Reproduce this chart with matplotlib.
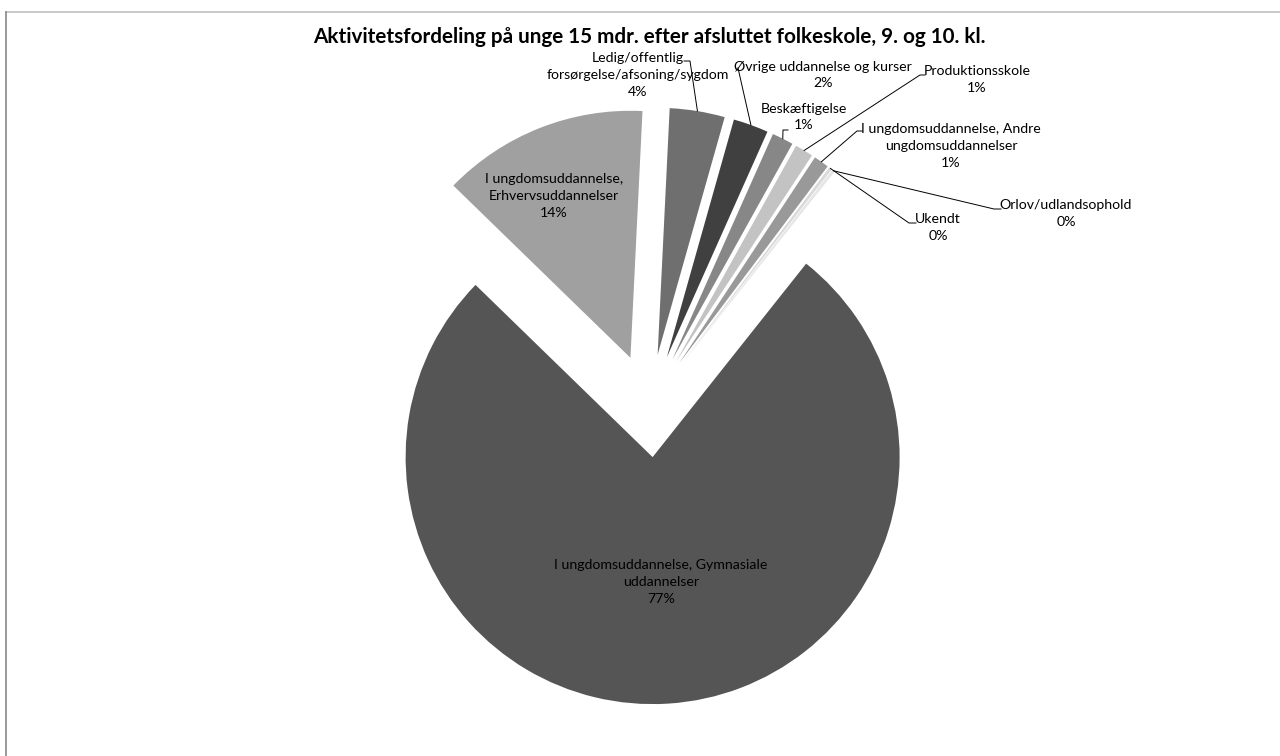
import matplotlib
matplotlib.use("Agg")
import matplotlib.pyplot as plt
import numpy as np

# ---------------- data ----------------
categories = [
    "Ledig/offentlig\nforsørgelse/afsoning/sygdom",
    "Øvrige uddannelse og kurser",
    "Beskæftigelse",
    "Produktionsskole",
    "I ungdomsuddannelse, Andre\nungdomsuddannelser",
    "Ukendt",
    "Orlov/udlandsophold",
    "I ungdomsuddannelse, Gymnasiale\nuddannelser",
    "I ungdomsuddannelse,\nErhvervsuddannelser",
]
shares = [3.6, 2.3, 1.4, 1.2, 1.0, 0.2, 0.2, 76.6, 13.5]
colors = ["#6f6f6f", "#404040", "#878787", "#c3c3c3", "#999999",
          "#d9d9d9", "#e6e6e6", "#555555", "#a0a0a0"]
title = "Aktivitetsfordeling på unge 15 mdr. efter afsluttet folkeskole, 9. og 10. kl."

W, H = 1280, 756
FONT = ["Lato", "DejaVu Sans"]
plt.rcParams["font.family"] = FONT

fig = plt.figure(figsize=(W / 100, H / 100), dpi=100)
ax = fig.add_axes([0, 0, 1, 1])


def P(x, y):
    """pixel (top-left origin) -> data coords"""
    return (x, H - y)


R = 247
center = P(649.3, 405.7)
wedges, _ = ax.pie(shares, colors=colors, radius=R, center=center,
                   startangle=87.2, counterclock=False,
                   explode=[51.5] * len(shares),
                   wedgeprops=dict(linewidth=0), frame=True)
ax.set_xlim(0, W)
ax.set_ylim(0, H)
ax.set_aspect("equal")
ax.axis("off")

labels = [f"{c}\n{v:.0f}%" for c, v in zip(categories, shares)]

# label centres (pixel) and leader line start points (pixel), None = inside label
label_pos = [(638, 75), (823, 75), (804, 117), (977, 79.5), (951, 146),
             (938, 227.5), (1066, 213.5), (661, 582), (554, 196)]
leader = [[(684, 61), (690, 61)],
          [(738, 68)],
          [(788, 130), (783, 130)],
          [(925, 75), (920, 75)],
          [(862, 131), (857, 131)],
          [(916, 223), (909, 223)],
          [(1001, 209), (994, 209)],
          None, None]

for w, lab, pos, ld in zip(wedges, labels, label_pos, leader):
    ax.text(*P(*pos), lab, ha="center", va="center", fontsize=10.2,
            color="#000000", linespacing=1.47)
    if ld is not None:
        mid = np.deg2rad((w.theta1 + w.theta2) / 2)
        cx, cy = w.center
        end = (cx + w.r * np.cos(mid), cy + w.r * np.sin(mid))
        pts = [P(*p) for p in ld] + [end]
        xs, ys = zip(*pts)
        ax.plot(xs, ys, color="#000000", lw=0.7)

ax.text(*P(649.5, 37), title, ha="center", va="center", fontsize=14.9,
        fontweight="bold", color="#000000")

# chart area border (top and left visible)
ax.plot([6, W], [H - 12, H - 12], color="#c0c0c0", lw=1.2)
ax.plot([6, 6], [H - 12, 0], color="#888888", lw=1.2)

fig.savefig("out.png", dpi=100)
